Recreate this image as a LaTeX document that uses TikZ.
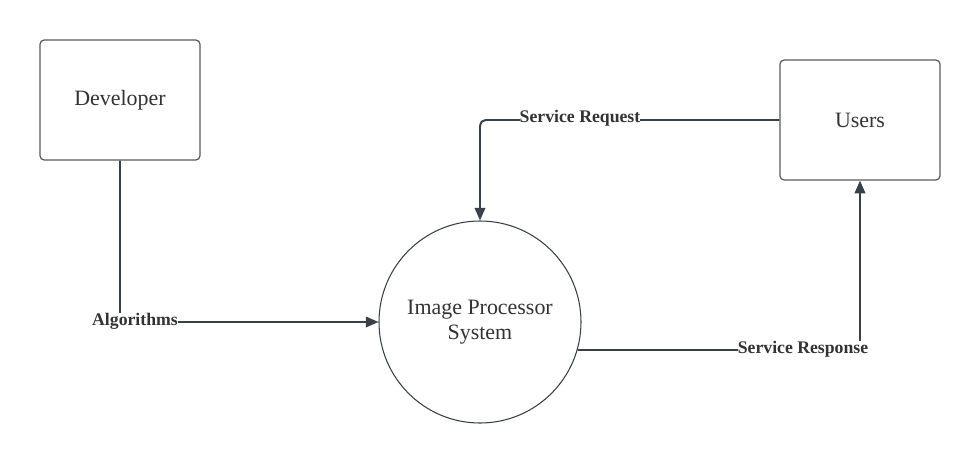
\documentclass[tikz,border=0pt]{standalone}
\usepackage{fontspec}
\setmainfont{Liberation Serif}
\usepackage{tikz}
\usetikzlibrary{arrows.meta}

\definecolor{linecol}{HTML}{3A3F48}
\definecolor{boxcol}{HTML}{5C5C5C}
\definecolor{txtcol}{HTML}{333333}

\begin{document}
\begin{tikzpicture}[
    entity/.style={draw=boxcol, line width=0.9pt, rounded corners=3pt,
        minimum width=4cm, minimum height=3cm, text=txtcol,
        font=\fontsize{15.6}{17.8}\selectfont},
    process/.style={draw=linecol, line width=0.75pt, circle, minimum size=5.05cm,
        align=center, text=txtcol, font=\fontsize{15.6}{17.8}\selectfont},
    flow/.style={draw=linecol, line width=1.4pt, rounded corners=4pt},
    flowlabel/.style={fill=white, inner sep=0pt, text=txtcol,
        font=\bfseries\fontsize{12.6}{14}\selectfont}
]
\useasboundingbox[fill=white] (0,0) rectangle (24.5,-11.625);

\node[entity] (dev) at (3,-2.5) {Developer};

\node[entity] (users) at (21.5,-3) {Users};

\node[process] (ips) at (12,-8.05) {Image Processor\\System};

\draw[flow,->,>={Triangle[length=9pt,width=7.5pt]}] (dev.south) |- (ips.west);
\node[flowlabel] (alg) at (3.375,-8.025) {Algorithms};

\draw[flow,->,>={Triangle[length=9pt,width=7.5pt]}] (users.west) -| (ips.north);
\node[flowlabel] (req) at (14.5,-2.95) {Service Request};

\draw[flow,->,>={Triangle[length=9pt,width=7.5pt]}] (ips.-16) -| (users.south);
\node[flowlabel] (resp) at (20.075,-8.725) {Service Response};

\end{tikzpicture}
\end{document}
